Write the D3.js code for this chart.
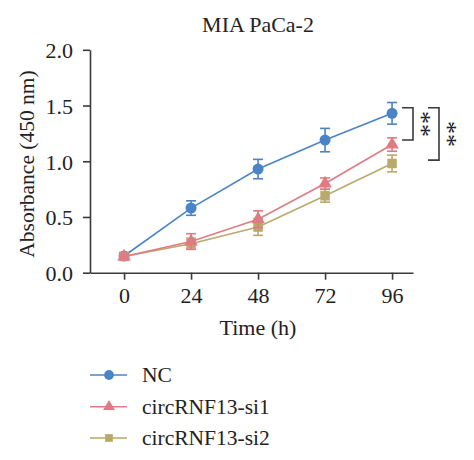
<!DOCTYPE html>
<html><head><meta charset="utf-8">
<script src="https://cdn.jsdelivr.net/npm/d3@7"></script>
<style>body{margin:0;background:#fff}svg{display:block}</style>
</head><body>
<svg id="c" width="474" height="460"></svg>
<script>
const times = [0, 24, 48, 72, 96];
const xTickLabels = ["0", "24", "48", "72", "96"];
const yTicks = [0.0, 0.5, 1.0, 1.5, 2.0];
const seriesNames = ["NC", "circRNF13-si1", "circRNF13-si2"];
const ncMean = [0.15, 0.58, 0.93, 1.19, 1.43];
const ncErr = [0.03, 0.065, 0.087, 0.105, 0.097];
const si1Mean = [0.145, 0.28, 0.48, 0.80, 1.15];
const si1Err = [0.025, 0.07, 0.075, 0.05, 0.06];
const si2Mean = [0.145, 0.26, 0.41, 0.69, 0.98];
const si2Err = [0.025, 0.05, 0.075, 0.057, 0.075];
const colors = ["#4b84c6", "#e07a83", "#b9a96b"];
const symbols = [d3.symbolCircle, d3.symbolTriangle, d3.symbolSquare];
const brackets = [{top: 1.48, bottom: 1.19, label: "**"}, {top: 1.48, bottom: 1.01, label: "**"}];

const svg = d3.select("#c");
const font = "'Liberation Serif', 'Times New Roman', serif";
const x = d3.scaleLinear().domain([-12.2, 103.5]).range([90, 413]);
const y = d3.scaleLinear().domain([0, 2]).range([272.7, 49.8]);
const axisColor = "#3a3a3a";

const gx = svg.append("g").attr("transform", "translate(0,272.7)")
  .call(d3.axisBottom(x).tickValues(times).tickFormat((d, i) => xTickLabels[i]).tickSize(7).tickSizeOuter(0).tickPadding(8));
const gy = svg.append("g").attr("transform", "translate(90,0)")
  .call(d3.axisLeft(y).tickValues(yTicks).tickFormat(d3.format(".1f")).tickSize(7).tickSizeOuter(0).tickPadding(10));
[gx, gy].forEach(g => {
  g.selectAll("path,line").attr("stroke", axisColor).attr("stroke-width", 1.6);
  g.selectAll("text").attr("font-family", font).attr("font-size", 22).attr("fill", "#222");
});
gy.selectAll("text").attr("dy", "0.36em");

svg.append("text").attr("x", 258).attr("y", 32).attr("text-anchor", "middle")
  .attr("font-family", font).attr("font-size", 22).attr("fill", "#222").text("MIA PaCa-2");
svg.append("text").attr("x", 258).attr("y", 335).attr("text-anchor", "middle")
  .attr("font-family", font).attr("font-size", 22).attr("fill", "#222").text("Time (h)");
svg.append("text").attr("transform", "translate(34,164) rotate(-90)").attr("text-anchor", "middle")
  .attr("font-family", font).attr("font-size", 21.5).attr("fill", "#222").text("Absorbance (450 nm)");

const data = [
  {name: seriesNames[0], mean: ncMean, err: ncErr},
  {name: seriesNames[1], mean: si1Mean, err: si1Err},
  {name: seriesNames[2], mean: si2Mean, err: si2Err}
];
const line = d3.line().x((d, i) => x(times[i])).y(d => y(d));
const drawOrder = [0, 2, 1];
drawOrder.forEach(k => {
  const s = data[k], c = colors[k];
  const g = svg.append("g");
  g.append("path").attr("d", line(s.mean)).attr("fill", "none").attr("stroke", c).attr("stroke-width", 1.6);
  s.mean.forEach((m, i) => {
    const cx = x(times[i]);
    const e = s.err[i];
    g.append("line").attr("x1", cx).attr("x2", cx).attr("y1", y(m + e)).attr("y2", y(m - e)).attr("stroke", c).attr("stroke-width", 1.6);
    [m + e, m - e].forEach(v => g.append("line").attr("x1", cx - 5).attr("x2", cx + 5).attr("y1", y(v)).attr("y2", y(v)).attr("stroke", c).attr("stroke-width", 1.6));
    g.append("path").attr("d", d3.symbol(symbols[k], k === 0 ? 95 : (k === 1 ? 80 : 90))()).attr("transform", `translate(${cx},${y(m)})`).attr("fill", c);
  });
});

// significance brackets
const bx = [413, 439];
const fsA = 26;
brackets.forEach((b, i) => {
  const xr = bx[i];
  svg.append("path").attr("d", `M${xr - 11},${y(b.top)}H${xr}V${y(b.bottom)}H${xr - 11}`)
    .attr("fill", "none").attr("stroke", axisColor).attr("stroke-width", 1.6);
  const mid = (y(b.top) + y(b.bottom)) / 2;
  svg.append("text").attr("text-anchor", "middle")
    .attr("transform", `translate(${xr + 14 - 0.52 * fsA},${mid}) rotate(90)`)
    .attr("font-family", font).attr("font-size", fsA).attr("fill", "#222").text(b.label);
});

// legend
const legY = [375, 406.7, 438];
data.forEach((s, k) => {
  const g = svg.append("g");
  g.append("line").attr("x1", 90).attr("x2", 127).attr("y1", legY[k]).attr("y2", legY[k]).attr("stroke", colors[k]).attr("stroke-width", 1.6);
  g.append("path").attr("d", d3.symbol(symbols[k], k === 0 ? 75 : 60)()).attr("transform", `translate(109,${legY[k]})`).attr("fill", colors[k]);
  g.append("text").attr("x", 142).attr("y", legY[k]).attr("dy", "0.33em").attr("font-family", font).attr("font-size", 21.5).attr("fill", "#222").text(s.name);
});
</script>
</body></html>
